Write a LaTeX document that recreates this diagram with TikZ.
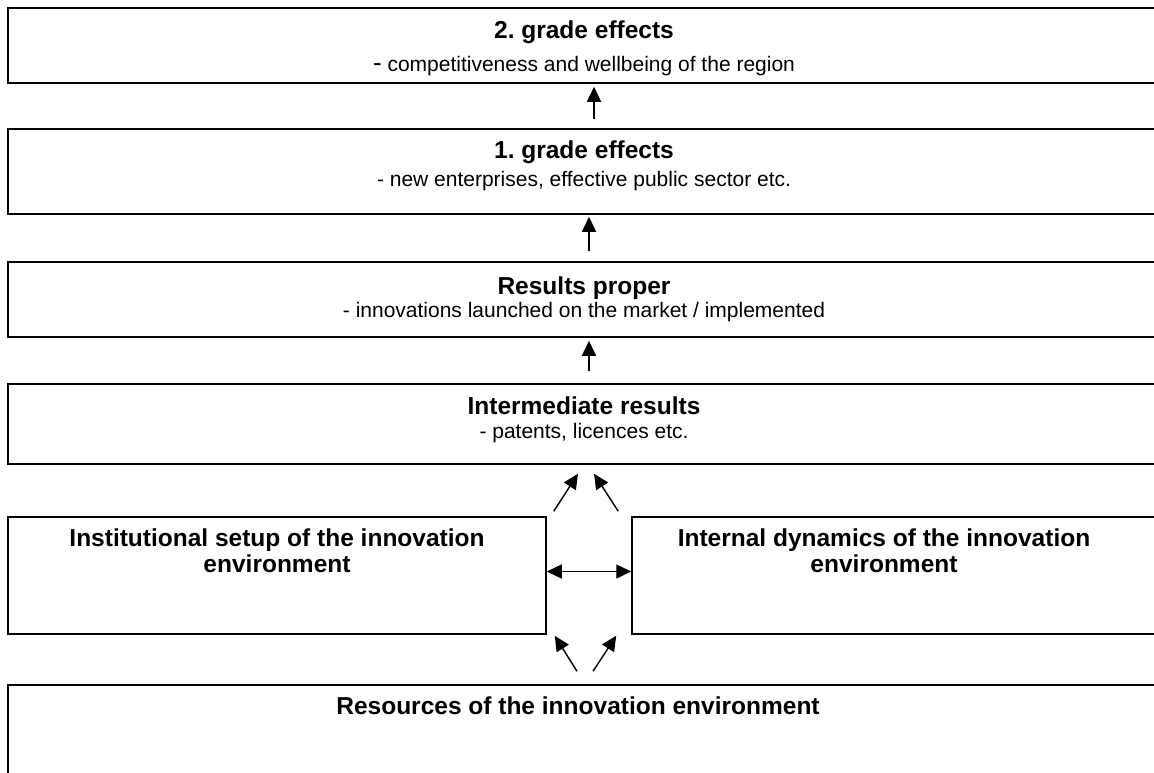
\documentclass[tikz,border=0pt]{standalone}
\usepackage{fontspec}
\setmainfont{Liberation Sans}
\usetikzlibrary{arrows.meta}
\frenchspacing

\begin{document}
\begin{tikzpicture}[x=1pt, y=-1pt,
		frame/.style={draw, line width=1.5pt, inner sep=0pt}, % plain boxes
		headline/.style={font=\bfseries\fontsize{24.5}{28}\selectfont, anchor=base, inner sep=0pt},
		subline/.style={font=\fontsize{21}{24}\selectfont, anchor=base, inner sep=0pt},
		uparrow/.style={line width=1.4pt, -{Triangle[length=15pt, width=14pt]}},
		bothways/.style={line width=1.4pt, {Triangle[length=15pt, width=14pt]}-{Triangle[length=15pt, width=14pt]}}
		]
		\useasboundingbox (0,0) rectangle (1154,772);
		\clip (0,0) rectangle (1154,772);
		% Boxes, top to bottom
		\node[frame, minimum width=1152pt, minimum height=75pt] (grade2) at (584,45.5) {};
		\node[frame, minimum width=1152pt, minimum height=85pt] (grade1) at (584,171.5) {};
		\node[frame, minimum width=1152pt, minimum height=75pt] (proper) at (584,299.5) {};
		\node[frame, minimum width=1152pt, minimum height=80pt] (inter) at (584,424) {};
		\node[frame, minimum width=538pt, minimum height=117pt] (inst) at (277,575.5) {};
		\node[frame, minimum width=528pt, minimum height=117pt] (dyn) at (896,575.5) {};
		\node[frame, minimum width=1152pt, minimum height=120pt] (res) at (584,745) {};
		% Texts
		\node[headline] (grade2title) at ([yshift=-31pt]grade2.north) {2. grade effects};
		\node[subline] (grade2text) at ([yshift=-64pt]grade2.north) {{\fontsize{26}{26}\selectfont -} competitiveness and wellbeing of the region};
		\node[headline] (grade1title) at ([yshift=-30pt]grade1.north) {1. grade effects};
		\node[subline] (grade1text) at ([yshift=-58pt]grade1.north) {- new enterprises, effective public sector etc.};
		\node[headline] (propertitle) at ([yshift=-33pt]proper.north) {Results proper};
		\node[subline] (propertext) at ([yshift=-56pt]proper.north) {- innovations launched on the market / implemented};
		\node[headline] (intertitle) at ([yshift=-31pt]inter.north) {Intermediate results};
		\node[subline] (intertext) at ([yshift=-55pt]inter.north) {- patents, licences etc.};
		\node[headline] (instline1) at ([yshift=-30pt]inst.north) {Institutional setup of the innovation};
		\node[headline] (instline2) at ([yshift=-56pt]inst.north) {environment};
		\node[headline] (dynline1) at ([xshift=-12pt, yshift=-30pt]dyn.north) {Internal dynamics of the innovation};
		\node[headline] (dynline2) at ([xshift=-12pt, yshift=-56pt]dyn.north) {environment};
		\node[headline] (restitle) at ([xshift=-6pt, yshift=-30pt]res.north) {Resources of the innovation environment};
		% Arrows
		\draw[uparrow] ([xshift=10pt, yshift=9pt]grade1.north) -- ([xshift=10pt, yshift=-3pt]grade2.south);
		\draw[uparrow] ([xshift=5pt, yshift=10pt]proper.north) -- ([xshift=5pt, yshift=-2pt]grade1.south);
		\draw[uparrow] ([xshift=5pt, yshift=12pt]inter.north) -- ([xshift=5pt, yshift=-3pt]proper.south);
		\draw[uparrow] ([xshift=7pt, yshift=5pt]inst.north east) -- ([xshift=-6pt, yshift=-9pt]inter.south);
		\draw[uparrow] ([xshift=-13pt, yshift=5pt]dyn.north west) -- ([xshift=10pt, yshift=-9pt]inter.south);
		\draw[bothways] ([yshift=4pt]inst.east) -- ([yshift=4pt]dyn.west);
		\draw[uparrow] ([xshift=-7pt, yshift=13pt]res.north) -- ([xshift=8pt, yshift=-1pt]inst.south east);
		\draw[uparrow] ([xshift=9pt, yshift=13pt]res.north) -- ([xshift=-15pt, yshift=-1pt]dyn.south west);
	\end{tikzpicture}
\end{document}
